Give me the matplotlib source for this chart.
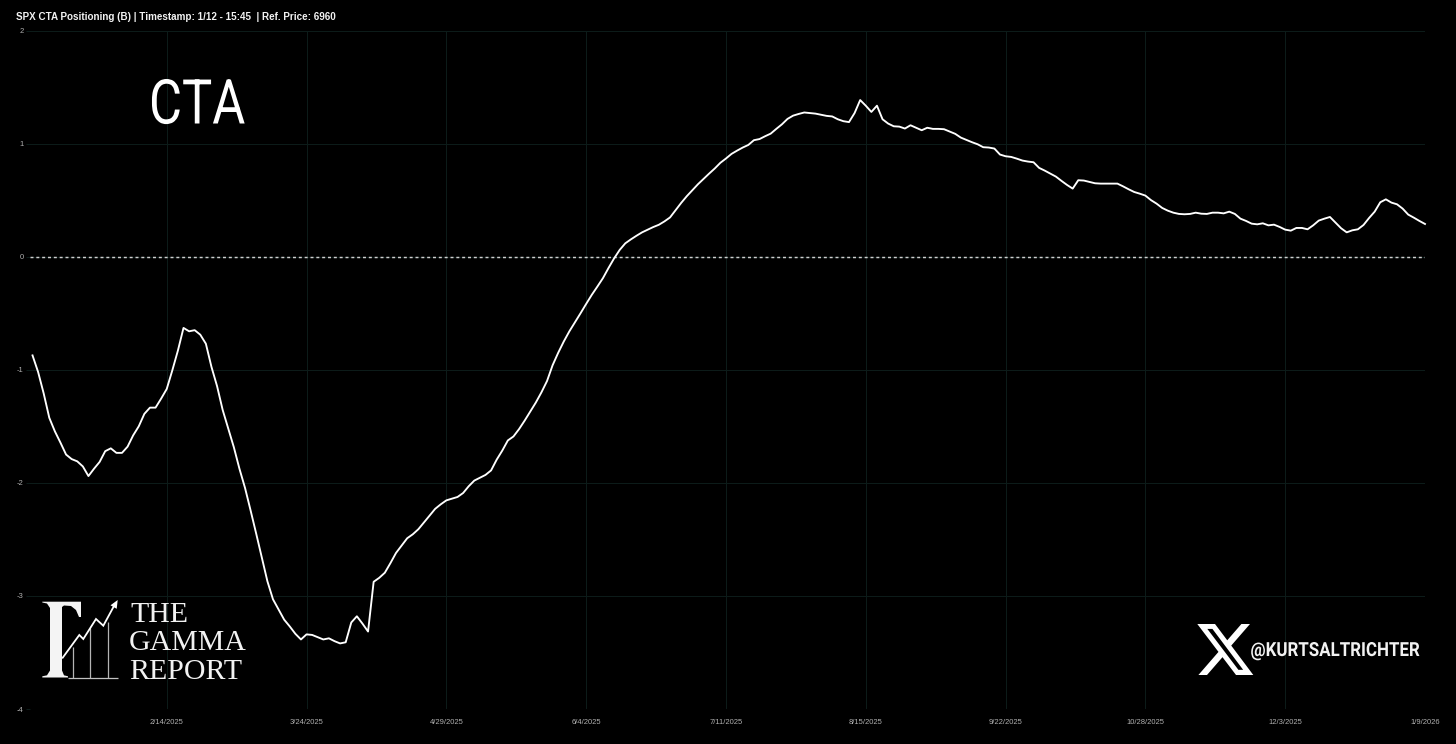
import numpy as np
import matplotlib
matplotlib.use("Agg")
import matplotlib.pyplot as plt
from matplotlib.patches import Polygon, PathPatch
from matplotlib.path import Path
from matplotlib.patheffects import AbstractPathEffect
from matplotlib.transforms import Affine2D

plt.rcParams["axes.unicode_minus"] = False

title = "SPX CTA Positioning (B) | Timestamp: 1/12 - 15:45  | Ref. Price: 6960"
tick_labels = ["2/14/2025", "3/24/2025", "4/29/2025", "6/4/2025", "7/11/2025",
               "8/15/2025", "9/22/2025", "10/28/2025", "12/3/2025", "1/9/2026"]
y_ticks = [-4, -3, -2, -1, 0, 1, 2]
cta = [
 -0.873,-1.02,-1.21,-1.425,-1.545,-1.645,-1.75,-1.79,-1.81,-1.855,
 -1.94,-1.875,-1.815,-1.72,-1.695,-1.735,-1.735,-1.68,-1.58,-1.50,
 -1.39,-1.335,-1.335,-1.255,-1.17,-1.005,-0.83,-0.63,-0.66,-0.65,
 -0.69,-0.77,-0.975,-1.145,-1.355,-1.52,-1.685,-1.875,-2.045,-2.245,
 -2.45,-2.66,-2.87,-3.03,-3.12,-3.21,-3.27,-3.335,-3.385,-3.34,
 -3.345,-3.365,-3.385,-3.375,-3.40,-3.42,-3.41,-3.235,-3.18,-3.245,
 -3.315,-2.875,-2.84,-2.795,-2.71,-2.62,-2.555,-2.49,-2.455,-2.41,
 -2.35,-2.29,-2.23,-2.19,-2.155,-2.14,-2.125,-2.09,-2.03,-1.98,
 -1.955,-1.93,-1.89,-1.795,-1.715,-1.625,-1.59,-1.525,-1.45,-1.37,
 -1.29,-1.20,-1.10,-0.96,-0.85,-0.75,-0.66,-0.58,-0.50,-0.418,
 -0.338,-0.265,-0.19,-0.10,-0.015,0.06,0.118,0.153,0.185,0.215,
 0.238,0.262,0.282,0.312,0.347,0.412,0.476,0.535,0.588,0.641,
 0.688,0.735,0.78,0.83,0.868,0.909,0.938,0.965,0.988,1.03,
 1.04,1.065,1.088,1.13,1.17,1.218,1.247,1.262,1.275,1.27,
 1.265,1.255,1.245,1.24,1.215,1.198,1.19,1.27,1.385,1.335,
 1.28,1.335,1.215,1.177,1.153,1.15,1.133,1.162,1.14,1.118,
 1.14,1.13,1.13,1.127,1.106,1.086,1.053,1.032,1.012,0.994,
 0.968,0.965,0.956,0.903,0.888,0.882,0.867,0.85,0.841,0.835,
 0.785,0.761,0.735,0.708,0.67,0.634,0.602,0.676,0.673,0.661,
 0.649,0.646,0.646,0.646,0.646,0.622,0.596,0.572,0.557,0.54,
 0.50,0.469,0.431,0.407,0.389,0.378,0.375,0.378,0.389,0.38,
 0.378,0.389,0.389,0.383,0.398,0.378,0.336,0.316,0.292,0.286,
 0.295,0.277,0.283,0.263,0.239,0.23,0.254,0.254,0.242,0.277,
 0.319,0.336,0.351,0.301,0.251,0.215,0.233,0.242,0.28,0.342,
 0.398,0.481,0.507,0.478,0.463,0.425,0.372,0.345,0.316,0.289,
]


class SqueezeX(AbstractPathEffect):
    """Narrow a text horizontally about a display anchor (no condensed font installed)."""
    def __init__(self, x0, sx):
        super().__init__()
        self.x0, self.sx = x0, sx

    def draw_path(self, renderer, gc, tpath, affine, rgbFace=None):
        aff = affine + Affine2D().translate(-self.x0, 0).scale(self.sx, 1).translate(self.x0, 0)
        renderer.draw_path(gc, tpath, aff, rgbFace)


W, H = 1456, 744
fig = plt.figure(figsize=(W / 100, H / 100), dpi=100, facecolor="black")
ax = fig.add_axes([30 / W, 1 - 709 / H, (1425 - 30) / W, (709 - 30.5) / H], facecolor="black")

idx = np.arange(len(cta))
grid_c = "#0c1b19"
ax.set_xlim(-0.45, len(cta) - 1)
ax.set_ylim(-4, 2)
ax.set_xticks(np.arange(24, len(cta), 25))
ax.set_xticklabels(tick_labels)
ax.set_yticks(y_ticks)
ax.grid(True, color=grid_c, lw=0.75)
ax.set_axisbelow(True)
ax.tick_params(axis="both", colors="#b0b0b0", labelsize=5.5, length=3, width=0.75, color=grid_c, pad=1.5)
ax.tick_params(axis="x", pad=7, length=0)
for l in ax.get_xticklabels() + ax.get_yticklabels():
    l.set_family("Liberation Sans")
for s in ax.spines.values():
    s.set_visible(False)
ax.axhline(0, color="#cfcfcf", lw=1.05, dashes=(2.05, 1.95), zorder=2)
ax.plot(idx, cta, color="white", lw=1.35, solid_joinstyle="round", zorder=3, clip_on=False)

ov = fig.add_axes([0, 0, 1, 1], facecolor="none")
ov.set_xlim(0, W)
ov.set_ylim(H, 0)
ov.axis("off")

ov.text(16, 20.5, title, color="#f2f2f2", fontsize=7.1, fontweight="bold",
        family="Liberation Sans", ha="left", va="baseline")
t = ov.text(149, 123.5, "CTA", color="white", fontsize=44.5,
            family="Roboto", ha="left", va="baseline")
t.set_path_effects([SqueezeX(149, 0.82)])

# Gamma logo
gamma = [(42.3, 677.5), (42.3, 676.3), (47, 675.3), (50, 670.5), (50, 608), (47, 603.5), (42.3, 602.5), (42.3, 601.7),
         (81, 601.7), (81, 617), (79, 617), (76, 610), (71, 606), (64, 605.5), (62, 607), (62, 670.5),
         (64, 675.3), (68, 676.3), (68, 677.5)]
ov.add_patch(Polygon(gamma, closed=True, fc="#f4f4f4", ec="none"))
for bx, top in [(72.7, 647), (90, 628), (107.7, 621.5)]:
    ov.plot([bx, bx], [top, 677.5], color="#b4b4b4", lw=0.9, solid_capstyle="butt")
ov.plot([68, 117.7], [677.5, 677.5], color="#c0c0c0", lw=0.9, solid_capstyle="butt")
ov.plot([62.7, 79.3, 83.3, 96, 103.3, 114],
        [657.7, 635, 639, 619, 625.7, 606], color="white", lw=1.3, solid_joinstyle="miter")
ov.add_patch(Polygon([(117.7, 600), (116.7, 608.8), (110.5, 605.3)], closed=True, fc="white", ec="none"))
for txt, x, y in [("THE", 130.5, 621.7), ("GAMMA", 128.5, 650), ("REPORT", 129.5, 679)]:
    ov.text(x, y, txt, color="#f2f2f2", fontsize=21.5, family="Liberation Serif", ha="left", va="baseline")

# X logo
outer = [(18.244, 2.25), (21.552, 2.25), (14.325, 10.51), (22.827, 21.75), (16.17, 21.75), (10.956, 14.933),
         (4.99, 21.75), (1.68, 21.75), (9.41, 12.915), (1.254, 2.25), (8.08, 2.25), (12.793, 8.481), (18.244, 2.25)]
hole = [(17.083, 19.77), (18.916, 19.77), (7.084, 4.126), (5.117, 4.126), (17.083, 19.77)]
sx, sy = 56 / 21.573, 51 / 19.5
conv = lambda p: (1197.3 + (p[0] - 1.254) * sx, 624 + (p[1] - 2.25) * sy)
verts, codes = [], []
for ring in (outer, hole):
    pts = [conv(p) for p in ring]
    verts += pts
    codes += [Path.MOVETO] + [Path.LINETO] * (len(pts) - 2) + [Path.CLOSEPOLY]
ov.add_patch(PathPatch(Path(verts, codes), fc="white", ec="none"))
h = ov.text(1250.5, 656, "@KURTSALTRICHTER", color="#f2f2f2", fontsize=14, fontweight="bold",
            family="Roboto", ha="left", va="baseline")
h.set_path_effects([SqueezeX(1250.5, 0.87)])

fig.savefig("out.png", dpi=100, facecolor="black")
